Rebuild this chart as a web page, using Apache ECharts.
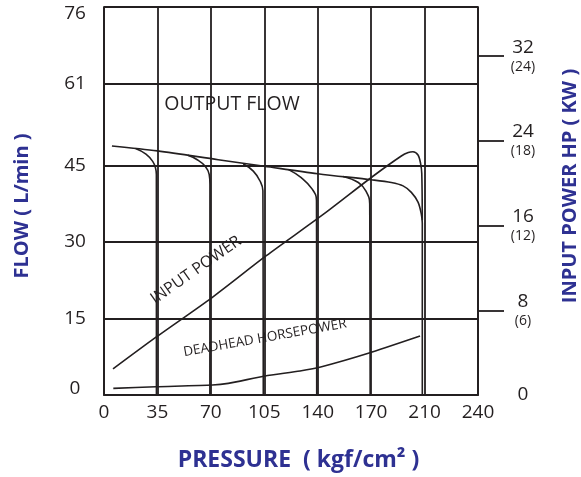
<!DOCTYPE html>
<html><head><meta charset="utf-8">
<script src="https://cdn.jsdelivr.net/npm/echarts@6/dist/echarts.min.js"></script>
<style>html,body{margin:0;padding:0;background:#fff}#c{width:581px;height:477px}</style>
</head><body><div id="c"></div>
<script>
// ---- data ----
const pressureTicks = [0, 35, 70, 105, 140, 170, 210, 240];   // kgf/cm2 (evenly spaced grid)
const flowTicks = [0, 15, 30, 45, 61, 76];                     // L/min
const hpTicks = [0, 8, 16, 24, 32];                            // HP
const kwTicks = [null, 6, 12, 18, 24];                         // KW

// OUTPUT FLOW envelope [pressure, L/min]
const outputFlow = [[5.2,48.77],[35,47.81],[74.8,46.09],[105,44.81],[140,43.35],[170.3,42.15],[185.1,41.62],[193.9,40.96],[200.1,39.69],[205.1,37.77],[207.5,35.52],[208.3,33.6],[208.3,0]];
// relief-setting drop curves [pressure, L/min]
const relief35  = [[20.7,48.27],[27.5,47.18],[31.9,45.76],[33.7,44.5],[34.3,43.2],[34.35,0]];
const relief70  = [[54.9,46.95],[61.1,46.09],[66.3,44.81],[68.9,43.21],[69.4,41.29],[69.35,0]];
const relief105 = [[91.2,45.3],[97.8,43.85],[102.2,41.92],[104.1,40.0],[104.35,0]];
const relief140 = [[120.9,44.15],[129.2,42.58],[136.4,40.33],[139.2,38.08],[139.35,0]];
const relief170 = [[154.3,42.8],[162.8,41.62],[167.0,40.0],[169.2,37.44],[169.45,0]];
// INPUT POWER [pressure, HP]
const inputPower = [[5.9,2.46],[34.3,5.48],[71.2,9.25],[106.1,13.13],[142.7,17.0],[171.6,20.68],[192.6,22.57],[197.8,22.9],[201.3,22.97],[205.1,22.66],[207.0,21.88],[207.9,20.93],[208.3,16.5]];
// DEADHEAD HORSEPOWER [pressure, HP]
const deadhead = [[6.1,0.63],[34.0,0.78],[71.0,0.94],[81.4,1.10],[105.5,1.79],[128.4,2.27],[142.2,2.67],[168.4,3.94],[206.6,5.57]];

// ---- helpers ----
function pIdx(p){
  for (let i = 0; i < pressureTicks.length - 1; i++){
    const a = pressureTicks[i], b = pressureTicks[i+1];
    if (p <= b || i === pressureTicks.length - 2) return i + (p - a) / (b - a);
  }
}
const mapP = arr => arr.map(d => [pIdx(d[0]), d[1]]);

const INK = '#231f20';
const BLUE = '#2e3192';
const FONT = '"Open Sans", "Noto Sans", sans-serif';
const gridLine = { color: INK, width: 1.8 };

function curve(data, yAxisIndex, smooth){
  return { type:'line', data: mapP(data), yAxisIndex, symbol:'none', smooth: smooth,
           lineStyle:{ color: INK, width: 1.6 }, silent:true, z: 3 };
}

const flowMax = flowTicks[flowTicks.length - 1];
const chart = echarts.init(document.getElementById('c'), null, {renderer:'canvas'});
chart.setOption({
  animation:false,
  backgroundColor:'#fff',
  textStyle:{ fontFamily: FONT },
  grid:{ left:104, right:103, top:7, bottom:82, containLabel:false, outerBoundsMode:'none' },
  xAxis:{
    type:'value', min:0, max:pressureTicks.length-1, interval:1,
    axisLine:{ show:true, onZero:false, lineStyle:gridLine },
    axisTick:{ show:false },
    splitLine:{ show:true, lineStyle:gridLine },
    axisLabel:{ formatter: v => String(pressureTicks[Math.round(v)]), color:INK, fontSize:19, margin:8, fontFamily:FONT },
    name:'PRESSURE  ( kgf/cm² )', nameLocation:'middle', nameGap:54,
    nameTextStyle:{ color:BLUE, fontSize:23, fontWeight:'bold', fontFamily:FONT, padding:[0,0,0,15] }
  },
  yAxis:[{
    type:'value', min:0, max:flowMax, position:'left',
    axisLine:{ show:true, onZero:false, lineStyle:gridLine },
    axisTick:{ show:false, customValues: flowTicks },
    splitLine:{ show:true, lineStyle:gridLine },
    axisLabel:{ customValues: flowTicks, margin:29, align:'center', fontFamily:FONT,
      formatter: v => v === flowMax ? '{t|' + v + '}' : (v === 0 ? '{z|' + v + '}' : '{n|' + v + '}'),
      rich:{ n:{ fontSize:19, color:INK, fontFamily:FONT },
             t:{ fontSize:19, color:INK, fontFamily:FONT, padding:[14,0,0,0] },
             z:{ fontSize:19, color:INK, fontFamily:FONT, padding:[0,0,13,0] } } },
    name:'FLOW ( L/min )', nameLocation:'middle', nameGap:72,
    nameTextStyle:{ color:BLUE, fontSize:20, fontWeight:'bold', fontFamily:FONT, padding:[0,10,0,0] }
  },{
    type:'value', min:0, max:36.64, position:'right',
    axisLine:{ show:true, onZero:false, lineStyle:gridLine },
    axisTick:{ show:true, inside:false, length:26, customValues: hpTicks.slice(1), lineStyle:gridLine },
    splitLine:{ show:false },
    axisLabel:{ customValues: hpTicks, margin:45, align:'center', fontFamily:FONT,
      formatter: v => { const i = hpTicks.indexOf(v); return kwTicks[i] == null ? '{a|' + v + '}' : '{a|' + v + '}\n{b|(' + kwTicks[i] + ')}'; },
      rich:{ a:{ fontSize:19, lineHeight:21, color:INK, fontFamily:FONT }, b:{ fontSize:14, lineHeight:18, color:INK, fontFamily:FONT } } },
    name:'INPUT POWER HP ( KW )', nameLocation:'middle', nameGap:82,
    nameTextStyle:{ color:BLUE, fontSize:20, fontWeight:'bold', fontFamily:FONT, padding:[0,0,0,30] }
  }],
  series:[
    curve(outputFlow, 0, 0.3),
    curve(relief35, 0, 0.45),
    curve(relief70, 0, 0.45),
    curve(relief105, 0, 0.45),
    curve(relief140, 0, 0.45),
    curve(relief170, 0, 0.45),
    curve(inputPower, 1, 0.3),
    curve(deadhead, 1, 0.2)
  ],
  graphic:[
    { type:'text', x:232, y:104, silent:true, z:10,
      style:{ text:'OUTPUT FLOW', font:'19.5px ' + FONT, fill:INK, align:'center', verticalAlign:'middle' } },
    { type:'text', x:196, y:270, rotation: 35*Math.PI/180, silent:true, z:10,
      style:{ text:'INPUT POWER', font:'16px ' + FONT, fill:INK, align:'center', verticalAlign:'middle' } },
    { type:'text', x:265, y:338, rotation: 10*Math.PI/180, silent:true, z:10,
      style:{ text:'DEADHEAD HORSEPOWER', font:'13.5px ' + FONT, fill:INK, align:'center', verticalAlign:'middle' } }
  ]
});
</script></body></html>
